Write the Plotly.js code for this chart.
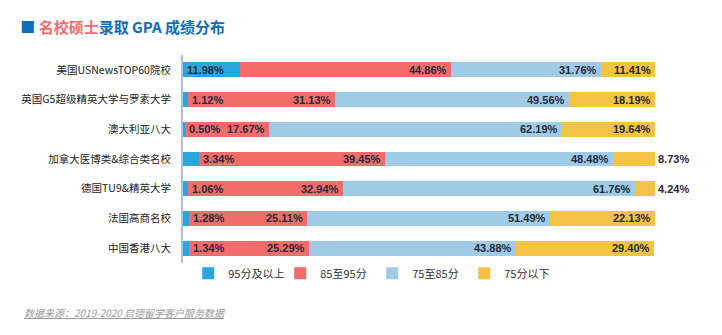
<!DOCTYPE html>
<html>
<head>
<meta charset="utf-8">
<script src="https://cdn.plot.ly/plotly-3.0.1.min.js"></script>
<style>html,body{margin:0;padding:0;background:#fff;}#chart{width:722px;height:335px;}</style>
</head>
<body>
<div id="chart"></div>
<script>
const categories = ["美国USNewsTOP60院校","英国G5超级精英大学与罗素大学","澳大利亚八大","加拿大医博类&综合类名校","德国TU9&精英大学","法国高商名校","中国香港八大"];
const seriesNames = ["95分及以上","85至95分","75至85分","75分以下"];
const s95 = [11.98, 1.12, 0.50, 3.34, 1.06, 1.28, 1.34];
const s85 = [44.86, 31.13, 17.67, 39.45, 32.94, 25.11, 25.29];
const s75 = [31.76, 49.56, 62.19, 48.48, 61.76, 51.49, 43.88];
const sLow = [11.41, 18.19, 19.64, 8.73, 4.24, 22.13, 29.40];
const colors = ["#2aa6df","#f26d6a","#9fcbe6","#f5c343"];
const allSeries = [s95, s85, s75, sLow];

const traces = allSeries.map((vals, i) => ({
  type: 'bar', orientation: 'h', name: seriesNames[i],
  x: vals, y: categories, marker: {color: colors[i]},
  hoverinfo: 'skip'
}));

const labelFont = {family: 'Liberation Sans, Arial, sans-serif', size: 11, color: '#1f2a3a', weight: 'bold'};
const annotations = [];
categories.forEach((c, k) => {
  let cum = 0;
  allSeries.forEach((vals, i) => {
    const v = vals[k];
    cum += v;
    const txt = '<b>' + v.toFixed(2) + '%</b>';
    if (i === 0) {
      annotations.push({x: v < 5 ? cum : 0, y: c, xref: 'x', yref: 'y', text: txt, showarrow: false, xanchor: 'left', xshift: 2, font: labelFont});
    } else if (i === 3 && v < 10) {
      annotations.push({x: cum, y: c, xref: 'x', yref: 'y', text: txt, showarrow: false, xanchor: 'left', xshift: 1, font: labelFont});
    } else {
      annotations.push({x: cum, y: c, xref: 'x', yref: 'y', text: txt, showarrow: false, xanchor: 'right', xshift: -2, font: labelFont});
    }
  });
});

annotations.push({
  xref: 'paper', yref: 'paper', x: -0.34, y: -0.24, xanchor: 'left', yanchor: 'middle',
  text: '<i><u>数据来源：2019-2020 启德留学客户服务数据</u></i>', showarrow: false,
  font: {family: 'Noto Sans CJK SC, sans-serif', size: 10, color: '#9a9a9a'}
});

const layout = {
  width: 722, height: 335,
  margin: {l: 183, r: 65, t: 55, b: 72, pad: 0},
  paper_bgcolor: '#ffffff', plot_bgcolor: '#ffffff',
  barmode: 'stack', bargap: 0.5,
  title: {
    text: '<span style="color:#0a6ebd">■</span> <span style="color:#f26d6a">名校硕士</span><span style="color:#0a6ebd">录取 GPA 成绩分布</span>',
    x: 0.028, xanchor: 'left', y: 0.918, yanchor: 'middle',
    font: {family: 'Noto Sans CJK SC, sans-serif', size: 15, weight: 'bold', color: '#0a6ebd'}
  },
  xaxis: {range: [0, 100.5], visible: false, fixedrange: true},
  yaxis: {
    autorange: 'reversed', showline: true, linecolor: '#a9c3dc', linewidth: 2,
    showgrid: false, zeroline: false, ticks: '', ticklabelstandoff: 8,
    tickfont: {family: 'Noto Sans CJK SC, sans-serif', size: 10.5, color: '#222222'}
  },
  showlegend: true,
  legend: {
    orientation: 'h', x: 0.011, xanchor: 'left', y: 0.02, yanchor: 'top',
    entrywidth: 47, entrywidthmode: 'pixels', itemwidth: 30,
    font: {family: 'Noto Sans CJK SC, sans-serif', size: 11, color: '#333333'},
    traceorder: 'normal'
  },
  annotations: annotations
};

Plotly.newPlot('chart', traces, layout, {displayModeBar: false, staticPlot: true});
</script>
</body>
</html>
